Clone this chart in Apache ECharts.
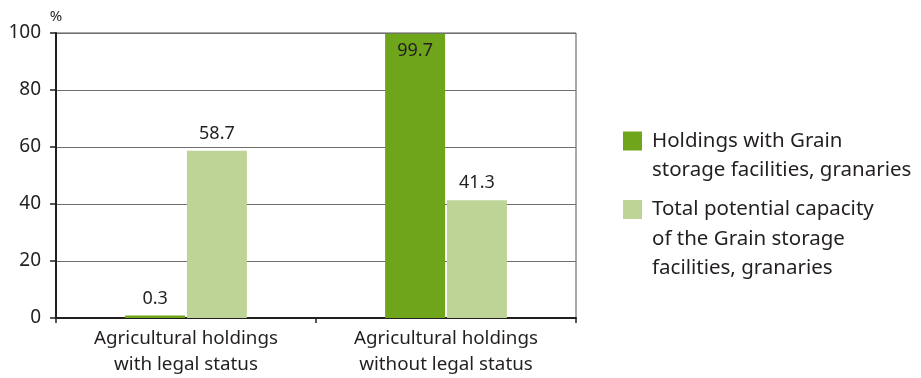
<!DOCTYPE html>
<html><head><meta charset="utf-8">
<script src="https://cdn.jsdelivr.net/npm/echarts@6/dist/echarts.min.js"></script>
<style>html,body{margin:0;padding:0;background:#fff}#c{width:921px;height:378px}</style>
</head><body><div id="c"></div>
<script>
const categories = ['Agricultural holdings\nwith legal status', 'Agricultural holdings\nwithout legal status'];
const seriesNames = ['Holdings with Grain\nstorage facilities, granaries', 'Total potential capacity\nof the Grain storage\nfacilities, granaries'];
const holdingsValues = [0.3, 99.7];
const capacityValues = [58.7, 41.3];
const yTicks = [0, 20, 40, 60, 80, 100];

const FONT = 'Noto Sans';
const LH = 29.5;
// leading blank lines so the first text line sits level with the legend square
const padLines = s => '\n'.repeat(s.split('\n').length - 1) + s;
const legendText = { fontFamily: FONT, fontSize: 20.5, color: '#231f20', lineHeight: LH, padding: [0, 0, 0, 5] };
const chart = echarts.init(document.getElementById('c'));
chart.setOption({
  animation: false,
  textStyle: { fontFamily: FONT },
  grid: { left: 56, right: 345, top: 33, bottom: 59, show: true, borderColor: '#555', borderWidth: 1 },
  legend: [
    { data: [seriesNames[0]], formatter: padLines,
      left: 623, top: 141 - 1.5 * LH, padding: 0, itemWidth: 19, itemHeight: 19, itemGap: 0, icon: 'rect',
      textStyle: legendText },
    { data: [seriesNames[1]], formatter: padLines,
      left: 623, top: 209.5 - 2.5 * LH, padding: 0, itemWidth: 19, itemHeight: 19, itemGap: 0, icon: 'rect',
      textStyle: legendText }
  ],
  xAxis: {
    type: 'category', data: categories,
    axisLine: { lineStyle: { color: '#231f20', width: 2 } },
    axisTick: { show: true, length: 5, lineStyle: { color: '#231f20', width: 1.5 } },
    axisLabel: { fontFamily: FONT, fontSize: 18.8, color: '#231f20', lineHeight: 26, margin: 8 }
  },
  yAxis: {
    type: 'value', min: 0, max: 100, interval: 20,
    name: '%', nameLocation: 'end', nameGap: 9,
    nameTextStyle: { fontFamily: FONT, fontSize: 15, color: '#231f20', align: 'center' },
    axisLine: { show: true, lineStyle: { color: '#231f20', width: 2 } },
    axisTick: { show: true, length: 6, lineStyle: { color: '#231f20', width: 1.5 } },
    axisLabel: { fontFamily: FONT, fontSize: 19, color: '#231f20', margin: 15,
      formatter: v => yTicks.includes(v) ? String(v) : '' },
    splitLine: { lineStyle: { color: '#6e6e6e', width: 1 } }
  },
  series: [
    { name: seriesNames[0], type: 'bar', barWidth: 60, barGap: '3%', barMinHeight: 2.5,
      itemStyle: { color: '#6fa51b' },
      data: holdingsValues.map(v => ({ value: v,
        label: { show: true, position: v > 90 ? 'insideTop' : 'top', distance: 8,
          fontFamily: FONT, fontSize: 18, color: '#231f20', formatter: p => p.value.toFixed(1) } })) },
    { name: seriesNames[1], type: 'bar', barWidth: 60, barGap: '3%',
      itemStyle: { color: '#bdd496' },
      label: { show: true, position: 'top', distance: 8, fontFamily: FONT, fontSize: 18, color: '#231f20',
        formatter: p => p.value.toFixed(1) },
      data: capacityValues }
  ]
});
</script></body></html>
